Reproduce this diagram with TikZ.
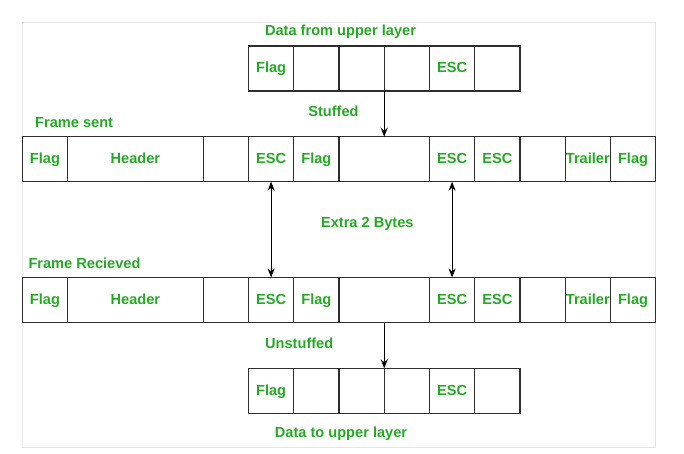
\documentclass[tikz,border=0pt]{standalone}
\usepackage{fontspec}
\setmainfont{Liberation Sans}
\usepackage{tikz}
\usetikzlibrary{positioning}
\usetikzlibrary{arrows.meta}
\definecolor{vertgfg}{RGB}{38,168,38}
\definecolor{traitgfg}{RGB}{45,45,45}

\begin{document}
\begin{tikzpicture}[x=1pt,y=-1pt]
% définition des paramètres
\tikzstyle casetrame=[draw=traitgfg,line width=1.2pt,inner sep=0pt,outer sep=0pt,minimum height=45pt,text height=11pt,text depth=2.4pt,text=vertgfg,font=\fontsize{14.6}{17}\selectfont\bfseries]
\tikzstyle textevert=[text=vertgfg,font=\fontsize{14.6}{17}\selectfont\bfseries,inner sep=0pt]
\tikzstyle pointdepart=[inner sep=0pt,outer sep=0pt,minimum size=0pt]
\tikzstyle flechebas=[-{Stealth[length=9pt,width=7pt]},line width=0.9pt]
\tikzstyle flechedouble=[{Stealth[length=9pt,width=7pt]}-{Stealth[length=9pt,width=7pt]},line width=0.9pt]
\tikzstyle cadre=[draw=black!10,line width=1pt]
\newcommand{\largcase}{45.24} % largeur d'une case
\newcommand{\origx}{22.3}     % bord gauche des trames
\newcommand{\origdx}{248.5}   % bord gauche des données
% le cadre
\useasboundingbox (0,0) rectangle (684,453);
\draw[cadre] (22.3,22.5) rectangle (655.7,447.5);
% les trames
\foreach \nom/\y in {s/159.2,r/300} {
  \node[pointdepart] (\nom0) at (\origx,\y) {};
  \foreach \w/\t [count=\i, remember=\i as \j (initially 0)] in {1/Flag,3/Header,1/{},1/ESC,1/Flag,2/{},1/ESC,1/ESC,1/{},1/Trailer,1/Flag}
    \node[casetrame,minimum width=\w*\largcase pt,right=0pt of \nom\j] (\nom\i) {\t};
}
% les données
\foreach \nom/\y in {d/68.5,b/390.8} {
  \node[pointdepart] (\nom0) at (\origdx,\y) {};
  \foreach \t [count=\i, remember=\i as \j (initially 0)] in {Flag,{},{},{},ESC,{}}
    \node[casetrame,minimum width=\largcase pt,right=0pt of \nom\j] (\nom\i) {\t};
}
% les flèches
\draw[flechebas] (d3.south east) -- (s6.north);
\draw[flechedouble] (s4.south) -- (r4.north);
\draw[flechedouble] (s7.south) -- (r7.north);
\draw[flechebas] (r6.south) -- (b3.north east);
% les textes
\node[textevert] (titrehaut) at (340.5,31.7) {Data from upper layer};
\node[textevert] (stuffed) at (333.5,111.5) {Stuffed};
\node[textevert,anchor=west] (envoi) at (35,122.5) {Frame sent};
\node[textevert] (extra) at (367.3,224) {Extra 2 Bytes};
\node[textevert,anchor=west] (recu) at (28.3,263.5) {Frame Recieved};
\node[textevert] (unstuffed) at (299.2,343.3) {Unstuffed};
\node[textevert] (titrebas) at (341,434) {Data to upper layer};
\end{tikzpicture}
\end{document}
